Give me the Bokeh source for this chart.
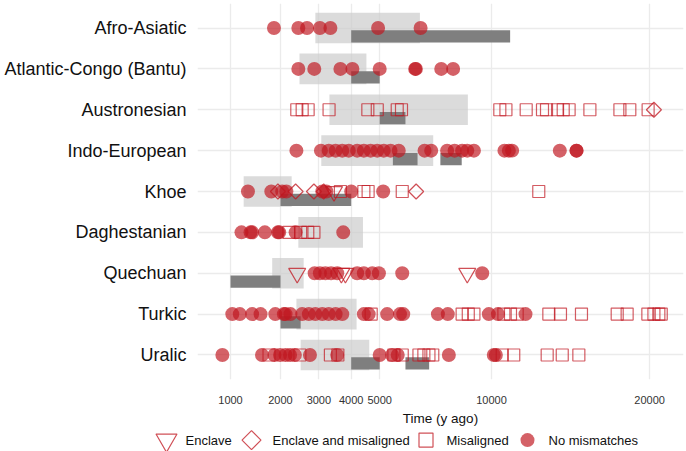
import numpy as np
from bokeh.plotting import figure
from bokeh.models import Range1d, FixedTicker, CustomJSTickFormatter, Plot
from bokeh.layouts import column
from bokeh.embed import file_html
from bokeh.resources import INLINE
from bokeh.core.properties import value

# ---------------- data ----------------
FAMILIES = ["Afro-Asiatic", "Atlantic-Congo (Bantu)", "Austronesian", "Indo-European",
            "Khoe", "Daghestanian", "Quechuan", "Turkic", "Uralic"]

X_TICKS = [1000, 2000, 3000, 4000, 5000, 10000, 20000]

# light boxes (one per family, same order as FAMILIES)
LIGHT_START = [2900, 2470, 3310, 3070, 1230, 2440, 1810, 2390, 2500]
LIGHT_END = [6600, 4520, 8800, 7180, 2270, 4400, 2580, 4180, 4620]

# dark bars
DARK_FAMILY = ["Afro-Asiatic", "Atlantic-Congo (Bantu)", "Austronesian", "Indo-European",
               "Indo-European", "Khoe", "Quechuan", "Turkic", "Uralic", "Uralic"]
DARK_START = [4000, 4000, 5000, 5500, 7500, 2000, 1000, 2000, 4000, 6000]
DARK_END = [11000, 5000, 6000, 6500, 8500, 4000, 2000, 2500, 5000, 7000]

# points: No mismatches
AA_NONE = [1850, 2440, 2670, 3030, 3340, 4940, 6630]
AC_NONE = [2440, 2870, 3650, 4040, 5000, 6400, 6430, 7540, 8090]
IE_NONE = [2390, 3060, 3290, 3500, 3710, 3920, 4200, 4430, 4670, 4910, 5150, 5410, 5730,
           6800, 7090, 7810, 8160, 8520, 8770, 9100, 10690, 10930, 11110, 13900, 14950, 14950]
KH_NONE = [1310, 1790, 2040, 2140, 3100, 3220, 4000, 5130]
DA_NONE = [1190, 1360, 1390, 1650, 1940, 1970, 2370, 3740]
QU_NONE = [2880, 3030, 3190, 3360, 3550, 4200, 4430, 4730, 4970, 5870, 9520]
TU_NONE = [1030, 1160, 1390, 1560, 1880, 2080, 2120, 2240, 2540, 2720, 2900, 3100, 3290,
           3500, 3710, 4430, 4600, 5280, 5780, 5910, 7390, 7840, 9860, 10340, 11860]
UR_NONE = [870, 1590, 1860, 1990, 2120, 2230, 2350, 2750, 3550, 5000, 5470, 5690, 7890,
           10120, 10230]

# Misaligned
AN_MIS = [2400, 2540, 2700, 3300, 4570, 4910, 5670, 5840, 10440, 10770, 11900, 12850,
          13090, 13760, 14110, 14480, 15820, 17860, 18560, 19890]
KH_MIS = [3650, 4430, 4580, 5870, 12630]
DA_MIS = [2200, 2500, 2690, 2860]
TU_MIS = [4690, 8520, 8820, 9100, 10660, 11020, 11390, 13230, 13940, 15270, 17670,
          18370, 19870, 20320, 20690, 20870]
UR_MIS = [1740, 2480, 3340, 3570, 5540, 5870, 6560, 6770, 6990, 7160, 10570, 11200,
          13130, 14050, 15100]

# Enclave
KH_ENC = [3450]
QU_ENC = [2410, 3680, 3810, 8770]

# Enclave and misaligned
AN_ENCMIS = [20320]
KH_ENCMIS = [1940, 2370, 2860, 3140, 6440]

LEGEND_LABELS = ["Enclave", "Enclave and misaligned", "Misaligned", "No mismatches"]

# ---------------- style ----------------
RED = "#c0161f"
FONT = "Liberation Sans"
GRID = "#ebebeb"
HAS_ALIGN = "frame_align" in Plot.properties()
W = 686
H_MAIN = 428
H_LEG = 23


def ypos(fam):
    return len(FAMILIES) - FAMILIES.index(fam)


def pts(groups):
    xs, ys = [], []
    for fam, vals in groups:
        xs += list(np.sqrt(np.array(vals, dtype=float)))
        ys += [ypos(fam)] * len(vals)
    return xs, ys


p = figure(width=W, height=H_MAIN, output_backend="svg", toolbar_location=None,
           x_range=Range1d(22.977, 150.30), y_range=Range1d(0.4, 9.6),
           min_border_left=197, min_border_right=3, min_border_top=3, min_border_bottom=45)
if HAS_ALIGN:
    p.frame_align = False
p.outline_line_color = None
p.background_fill_color = "white"
p.border_fill_color = "white"

xt = list(np.sqrt(np.array(X_TICKS, dtype=float)))
yt = [ypos(f) for f in FAMILIES]

p.xaxis.ticker = FixedTicker(ticks=xt)
p.xaxis.formatter = CustomJSTickFormatter(code="return Math.round(tick*tick).toString();")
p.yaxis.ticker = FixedTicker(ticks=yt)
p.yaxis.major_label_overrides = {ypos(f): f for f in FAMILIES}

p.xgrid.ticker = FixedTicker(ticks=xt)
p.ygrid.ticker = FixedTicker(ticks=yt)
for g in (p.xgrid, p.ygrid):
    g.grid_line_color = GRID
    g.grid_line_width = 1.3

for ax in (p.xaxis, p.yaxis):
    ax.axis_line_color = None
    ax.major_tick_line_color = None
    ax.minor_tick_line_color = None
    ax.major_label_text_font = FONT

p.xaxis.major_label_text_font_size = "11px"
p.xaxis.major_label_text_color = "#333333"
p.xaxis.major_label_standoff = 10
p.xaxis.axis_label = "Time (y ago)"
p.xaxis.axis_label_text_font = FONT
p.xaxis.axis_label_text_font_style = "normal"
p.xaxis.axis_label_text_font_size = "13.5px"
p.xaxis.axis_label_text_color = "#111111"
p.xaxis.axis_label_standoff = 4

p.yaxis.major_label_text_font_size = "18px"
p.yaxis.major_label_text_color = "#111111"
p.yaxis.major_label_standoff = 5

# light boxes
ly = np.array([ypos(f) for f in FAMILIES], dtype=float)
p.quad(left=np.sqrt(LIGHT_START), right=np.sqrt(LIGHT_END), bottom=ly - 0.375, top=ly + 0.375,
       fill_color="#cccccc", fill_alpha=0.7, line_color=None)

# dark bars
dy = np.array([ypos(f) for f in DARK_FAMILY], dtype=float)
p.quad(left=np.sqrt(DARK_START), right=np.sqrt(DARK_END), bottom=dy - 0.355, top=dy - 0.055,
       fill_color="#7f7f7f", fill_alpha=1.0, line_color=None)

# points
x, y = pts([("Afro-Asiatic", AA_NONE), ("Atlantic-Congo (Bantu)", AC_NONE),
            ("Indo-European", IE_NONE), ("Khoe", KH_NONE), ("Daghestanian", DA_NONE),
            ("Quechuan", QU_NONE), ("Turkic", TU_NONE), ("Uralic", UR_NONE)])
p.scatter(x, y, marker="circle", size=14, fill_color=RED, fill_alpha=0.68, line_color=None)

x, y = pts([("Austronesian", AN_MIS), ("Khoe", KH_MIS), ("Daghestanian", DA_MIS),
            ("Turkic", TU_MIS), ("Uralic", UR_MIS)])
p.scatter(x, y, marker="square", size=12, fill_color=None, line_color=RED, line_alpha=0.7,
          line_width=1.2)

x, y = pts([("Khoe", KH_ENC), ("Quechuan", QU_ENC)])
p.scatter(x, y, marker="inverted_triangle", size=17, fill_color=None, line_color=RED,
          line_alpha=0.75, line_width=1.2)

x, y = pts([("Austronesian", AN_ENCMIS), ("Khoe", KH_ENCMIS)])
p.scatter(x, y, marker="square", angle=np.pi / 4, size=10.6, fill_color=None, line_color=RED,
          line_alpha=0.75, line_width=1.2)

# ---------------- legend strip ----------------
lf = figure(width=W, height=H_LEG, output_backend="svg", toolbar_location=None,
            x_range=Range1d(0, W), y_range=Range1d(0, H_LEG), x_axis_type=None,
            y_axis_type=None, min_border=0, min_border_left=0, min_border_right=0,
            min_border_top=0, min_border_bottom=0)
if HAS_ALIGN:
    lf.frame_align = False
lf.outline_line_color = None
lf.grid.visible = False
lf.background_fill_color = "white"
lf.border_fill_color = "white"

SYM_X = [166, 251, 425.5, 527]
TXT_X = [185, 272, 446, 548]
LY = 11.4
lf.scatter([SYM_X[0]], [LY], marker="inverted_triangle", size=21, fill_color=None,
           line_color=RED, line_alpha=0.75, line_width=1.2)
lf.scatter([SYM_X[1]], [LY], marker="square", angle=np.pi / 4, size=13.4, fill_color=None,
           line_color=RED, line_alpha=0.75, line_width=1.2)
lf.scatter([SYM_X[2]], [LY], marker="square", size=14, fill_color=None,
           line_color=RED, line_alpha=0.75, line_width=1.2)
lf.scatter([SYM_X[3]], [LY], marker="circle", size=14, fill_color=RED, fill_alpha=0.68,
           line_color=None)
lf.text(x=TXT_X, y=[LY] * 4, text=LEGEND_LABELS, text_font=value(FONT), text_font_size="13px",
        text_baseline="middle", text_align="left", text_color="#111111")

layout = column(p, lf, spacing=0)
open("out.html", "w").write(file_html(layout, INLINE))
